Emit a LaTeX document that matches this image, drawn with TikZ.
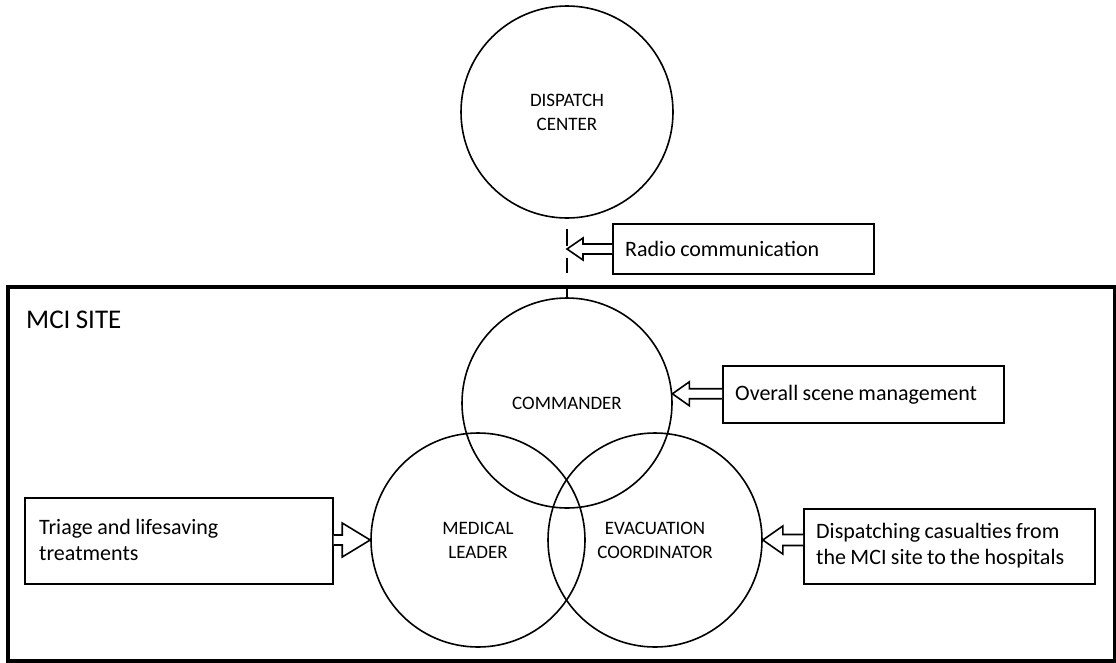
\documentclass[tikz,border=0pt]{standalone}
\usepackage{fontspec}
\setmainfont{Carlito}
\usetikzlibrary{calc}
\newcommand{\tightsp}{\spaceskip=0.2em plus 0.02em\relax}
\begin{document}
\begin{tikzpicture}[x=1pt,y=-1pt,
  role/.style={circle, draw, line width=1.6pt, minimum size=#1, inner sep=0pt, align=center,
    font=\fontsize{19}{24}\selectfont\tightsp},
  notebox/.style={draw, line width=1.6pt, anchor=north west, inner sep=0pt},
  notetext/.style={anchor=west, align=left, inner sep=0pt,
    font=\fontsize{22}{26}\selectfont\tightsp},
  hollow/.style={draw, line width=1.6pt, fill=white, line join=miter},
  linkline/.style={line width=2pt}]
\useasboundingbox (0,0) rectangle (1116,662);

% MCI site frame
\node[draw, line width=3.5pt, minimum width=1107pt, minimum height=374pt, anchor=north west, inner sep=0pt] (site) at (6,285) {};
\node[anchor=west, inner sep=0pt, font=\fontsize{27}{32}\selectfont\tightsp] (sitelabel) at (26,320) {MCI SITE};

% circles
\node[role=212pt] (disp) at (567,112) {DISPATCH\\CENTER};
\node[role=210pt] (com) at (567,403) {COMMANDER};
\node[role=214pt] (med) at (478,540) {MEDICAL\\LEADER};
\node[role=214pt] (evac) at (655,540) {EVACUATION\\COORDINATOR};

% links
\coordinate (frametop) at (disp.south |- site.north);
\draw[linkline, dash pattern=on 0pt off 10pt on 17pt off 12pt on 15pt off 20pt] (disp.south) -- (frametop);
\draw[linkline] (frametop) -- (com.north);
\coordinate (radiotip) at (567,249);

% note boxes
\node[notebox, minimum width=261pt, minimum height=50pt] (radio) at (612,223) {};
\node[notetext] (radiotxt) at ($(radio.west)+(13,0)$) {Radio communication};
\node[notebox, minimum width=281pt, minimum height=57pt] (overall) at (722,365) {};
\node[notetext] (overalltxt) at ($(overall.west)+(13,0)$) {Overall scene management};
\node[notebox, minimum width=308pt, minimum height=86pt] (triage) at (24,497) {};
\node[notetext] (triagetxt) at ($(triage.west)+(15,-1)$) {Triage and lifesaving\\treatments};
\node[notebox, minimum width=291pt, minimum height=75pt] (dispatching) at (803,508) {};
\node[notetext] (dispatchingtxt) at ($(dispatching.west)+(13,-1)$) {Dispatching casualties from\\the MCI site to the hospitals};

% hollow block arrows
\draw[hollow] let \p1=(radiotip), \p2=(radio.west) in
  (\x2,\y1+5pt) -- (\x1+16pt,\y1+5pt) -- (\x1+16pt,\y1+11pt) -- (\p1) -- (\x1+16pt,\y1-11pt) -- (\x1+16pt,\y1-5pt) -- (\x2,\y1-5pt);
\draw[hollow] let \p1=(com.5), \p2=(overall.west) in
  (\x2,\y1+5pt) -- (\x1+17pt,\y1+5pt) -- (\x1+17pt,\y1+12pt) -- (\p1) -- (\x1+17pt,\y1-12pt) -- (\x1+17pt,\y1-5pt) -- (\x2,\y1-5pt);
\draw[hollow] let \p1=(evac.east), \p2=(dispatching.west) in
  (\x2,\y1+5.5pt) -- (\x1+20pt,\y1+5.5pt) -- (\x1+20pt,\y1+14pt) -- (\p1) -- (\x1+20pt,\y1-14pt) -- (\x1+20pt,\y1-5.5pt) -- (\x2,\y1-5.5pt);
\draw[hollow] let \p1=(med.west), \p2=(triage.east) in
  (\x2,\y1+5pt) -- (\x1-28pt,\y1+5pt) -- (\x1-28pt,\y1+17pt) -- (\p1) -- (\x1-28pt,\y1-17pt) -- (\x1-28pt,\y1-5pt) -- (\x2,\y1-5pt);
\end{tikzpicture}
\end{document}
